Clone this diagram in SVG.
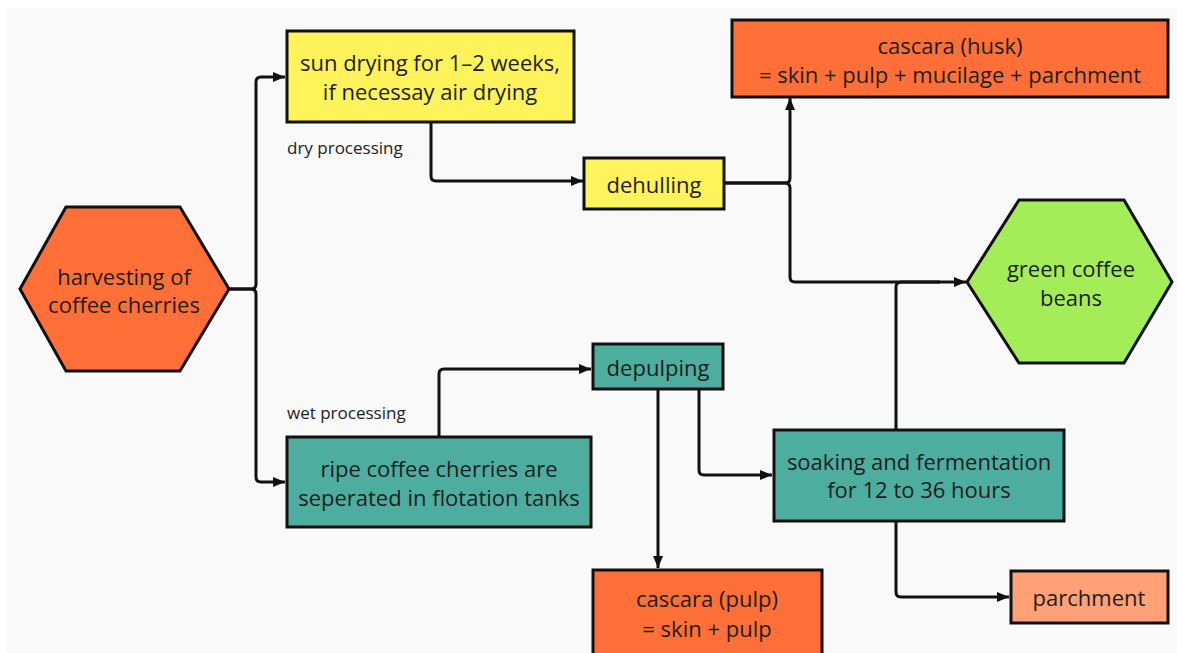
<svg xmlns="http://www.w3.org/2000/svg" width="1177" height="653" viewBox="0 0 1177 653">
<style>
.bx{stroke:#111;stroke-width:3}
.or{fill:#FF6F37}.ye{fill:#FFF35C}.te{fill:#4DAE9F}.gr{fill:#A3EE58}.pa{fill:#FFA077}
.t{font-family:"Open Sans",Lato,"Liberation Sans",sans-serif;font-size:22px;fill:#1e1e1e;text-anchor:middle;dominant-baseline:central}
.lb{font-family:"Open Sans",Lato,"Liberation Sans",sans-serif;font-size:17px;fill:#222;dominant-baseline:central}
.c{fill:none;stroke:#111;stroke-width:3;stroke-linejoin:round}
</style>
<defs>
<marker id="ah" viewBox="0 0 12 10" refX="12" refY="5" markerWidth="12" markerHeight="10" markerUnits="userSpaceOnUse" orient="auto">
<path d="M0,0 L12,5 L0,10 Z" fill="#111"/>
</marker>
</defs>
<rect x="0" y="0" width="1177" height="653" fill="#fff"/>
<rect x="6" y="8" width="1171" height="645" fill="#F9F9F9"/>

<g id="connectors">
<path class="c" d="M229,289 H251 Q256,289 256,284 V82 Q256,77 261,77 H285" marker-end="url(#ah)"/>
<path class="c" d="M229,289 H251 Q256,289 256,294 V477 Q256,482 261,482 H285" marker-end="url(#ah)"/>
<path class="c" d="M431,122 V176 Q431,181 436,181 H583" marker-end="url(#ah)"/>
<path class="c" d="M724,183 H785 Q790,183 790,178 V98" marker-end="url(#ah)"/>
<path class="c" d="M724,183 H785 Q790,183 790,188 V277 Q790,282 795,282 H966" marker-end="url(#ah)"/>
<path class="c" d="M896,429 V287 Q896,282 901,282 H940"/>
<path class="c" d="M439,437 V374 Q439,369 444,369 H591" marker-end="url(#ah)"/>
<path class="c" d="M658,389 V568" marker-end="url(#ah)"/>
<path class="c" d="M699,389 V470 Q699,475 704,475 H772" marker-end="url(#ah)"/>
<path class="c" d="M896,521 V592 Q896,597 901,597 H1009" marker-end="url(#ah)"/>
</g>

<g id="harvesting">
<polygon class="bx or" points="20,289 66,207 180,207 229,289 180,371 66,371"/>
<text class="t" x="124" y="276">harvesting of</text>
<text class="t" x="124" y="304">coffee cherries</text>
</g>

<g id="sun-drying">
<rect class="bx ye" x="287" y="31" width="287" height="91"/>
<text class="t" x="430" y="62">sun drying for 1–2 weeks,</text>
<text class="t" x="430" y="91">if necessay air drying</text>
</g>
<text class="lb" x="287" y="147">dry processing</text>

<g id="dehulling">
<rect class="bx ye" x="584" y="158" width="140" height="51"/>
<text class="t" x="654" y="184">dehulling</text>
</g>

<g id="cascara-husk">
<rect class="bx or" x="732" y="20" width="436" height="77"/>
<text class="t" x="950" y="45">cascara (husk)</text>
<text class="t" x="950" y="74">= skin + pulp + mucilage + parchment</text>
</g>

<g id="green-coffee">
<polygon class="bx gr" points="967,282 1019,200 1124,200 1172,282 1124,363 1019,363"/>
<text class="t" x="1071" y="268">green coffee</text>
<text class="t" x="1071" y="297">beans</text>
</g>

<text class="lb" x="287" y="412">wet processing</text>
<g id="ripe-cherries">
<rect class="bx te" x="287" y="437" width="304" height="90"/>
<text class="t" x="439" y="468">ripe coffee cherries are</text>
<text class="t" x="439" y="497">seperated in flotation tanks</text>
</g>

<g id="depulping">
<rect class="bx te" x="593" y="344" width="130" height="45"/>
<text class="t" x="658" y="367">depulping</text>
</g>

<g id="soaking">
<rect class="bx te" x="774" y="430" width="290" height="91"/>
<text class="t" x="919" y="461">soaking and fermentation</text>
<text class="t" x="919" y="489">for 12 to 36 hours</text>
</g>

<g id="parchment">
<rect class="bx pa" x="1011" y="571" width="157" height="52"/>
<text class="t" x="1089" y="597">parchment</text>
</g>

<g id="cascara-pulp">
<rect class="bx or" x="593" y="570" width="229" height="95"/>
<text class="t" x="707" y="598">cascara (pulp)</text>
<text class="t" x="707" y="628">= skin + pulp</text>
</g>
</svg>
